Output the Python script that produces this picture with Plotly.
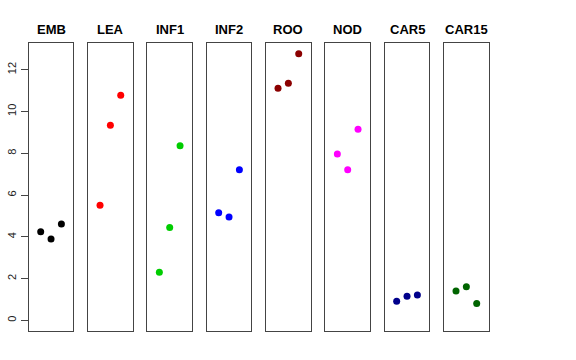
import plotly.graph_objects as go

categories = ["EMB", "LEA", "INF1", "INF2", "ROO", "NOD", "CAR5", "CAR15"]
colors = ["#000000", "#FF0000", "#00CD00", "#0000FF", "#8B0000", "#FF00FF", "#00008B", "#006400"]
x_pos = [1, 2, 3]
emb = [4.24, 3.89, 4.61]
lea = [5.51, 9.34, 10.78]
inf1 = [2.30, 4.45, 8.36]
inf2 = [5.15, 4.95, 7.21]
roo = [11.11, 11.35, 12.77]
nod = [7.96, 7.21, 9.15]
car5 = [0.91, 1.15, 1.21]
car15 = [1.40, 1.61, 0.81]
series = [emb, lea, inf1, inf2, roo, nod, car5, car15]
y_ticks = [0, 2, 4, 6, 8, 10, 12]

W, H = 576, 360
left0, pitch, pw = 28.7, 59.33, 44.7
top, bottom = 43, 331

fig = go.Figure()
layout = dict(
    width=W, height=H, margin=dict(l=0, r=0, t=0, b=0),
    paper_bgcolor="white", plot_bgcolor="white", showlegend=False,
    font=dict(family="Liberation Sans, Arial, sans-serif", color="#000"),
)
annotations = []
for i, (cat, col, vals) in enumerate(zip(categories, colors, series)):
    ax = "" if i == 0 else str(i + 1)
    fig.add_trace(go.Scatter(
        x=x_pos, y=vals, mode="markers",
        marker=dict(color=col, size=7, line=dict(width=0)),
        xaxis="x" + ax, yaxis="y" + ax, hoverinfo="skip",
    ))
    l = left0 + i * pitch
    r = l + pw
    layout["xaxis" + ax] = dict(
        domain=[l / W, r / W], range=[-0.16, 4.16],
        showgrid=False, zeroline=False, showticklabels=False, ticks="",
        showline=True, mirror=True, linecolor="#444", linewidth=1,
        anchor="y" + ax, fixedrange=True,
    )
    ydict = dict(
        domain=[1 - bottom / H, 1 - top / H], range=[-0.51, 13.28],
        showgrid=False, zeroline=False,
        showline=True, mirror=True, linecolor="#444", linewidth=1,
        anchor="x" + ax, fixedrange=True,
    )
    if i == 0:
        ydict.update(tickvals=y_ticks, ticktext=[str(v) for v in y_ticks],
                     ticks="outside", ticklen=7, tickcolor="#444", tickwidth=1,
                     tickangle=-90, tickfont=dict(size=11, color="#222"))
    else:
        ydict.update(showticklabels=False, ticks="")
    layout["yaxis" + ax] = ydict
    annotations.append(dict(
        x=(l + r) / 2 / W, y=1 - 29 / H, xref="paper", yref="paper",
        text="<b>" + cat + "</b>", showarrow=False,
        xanchor="center", yanchor="middle",
        font=dict(size=13, color="#000"),
    ))
layout["annotations"] = annotations
fig.update_layout(**layout)
fig.write_html("out.html", config={"displayModeBar": False},
               post_script="document.body.style.margin='0';document.body.style.overflow='hidden';")
